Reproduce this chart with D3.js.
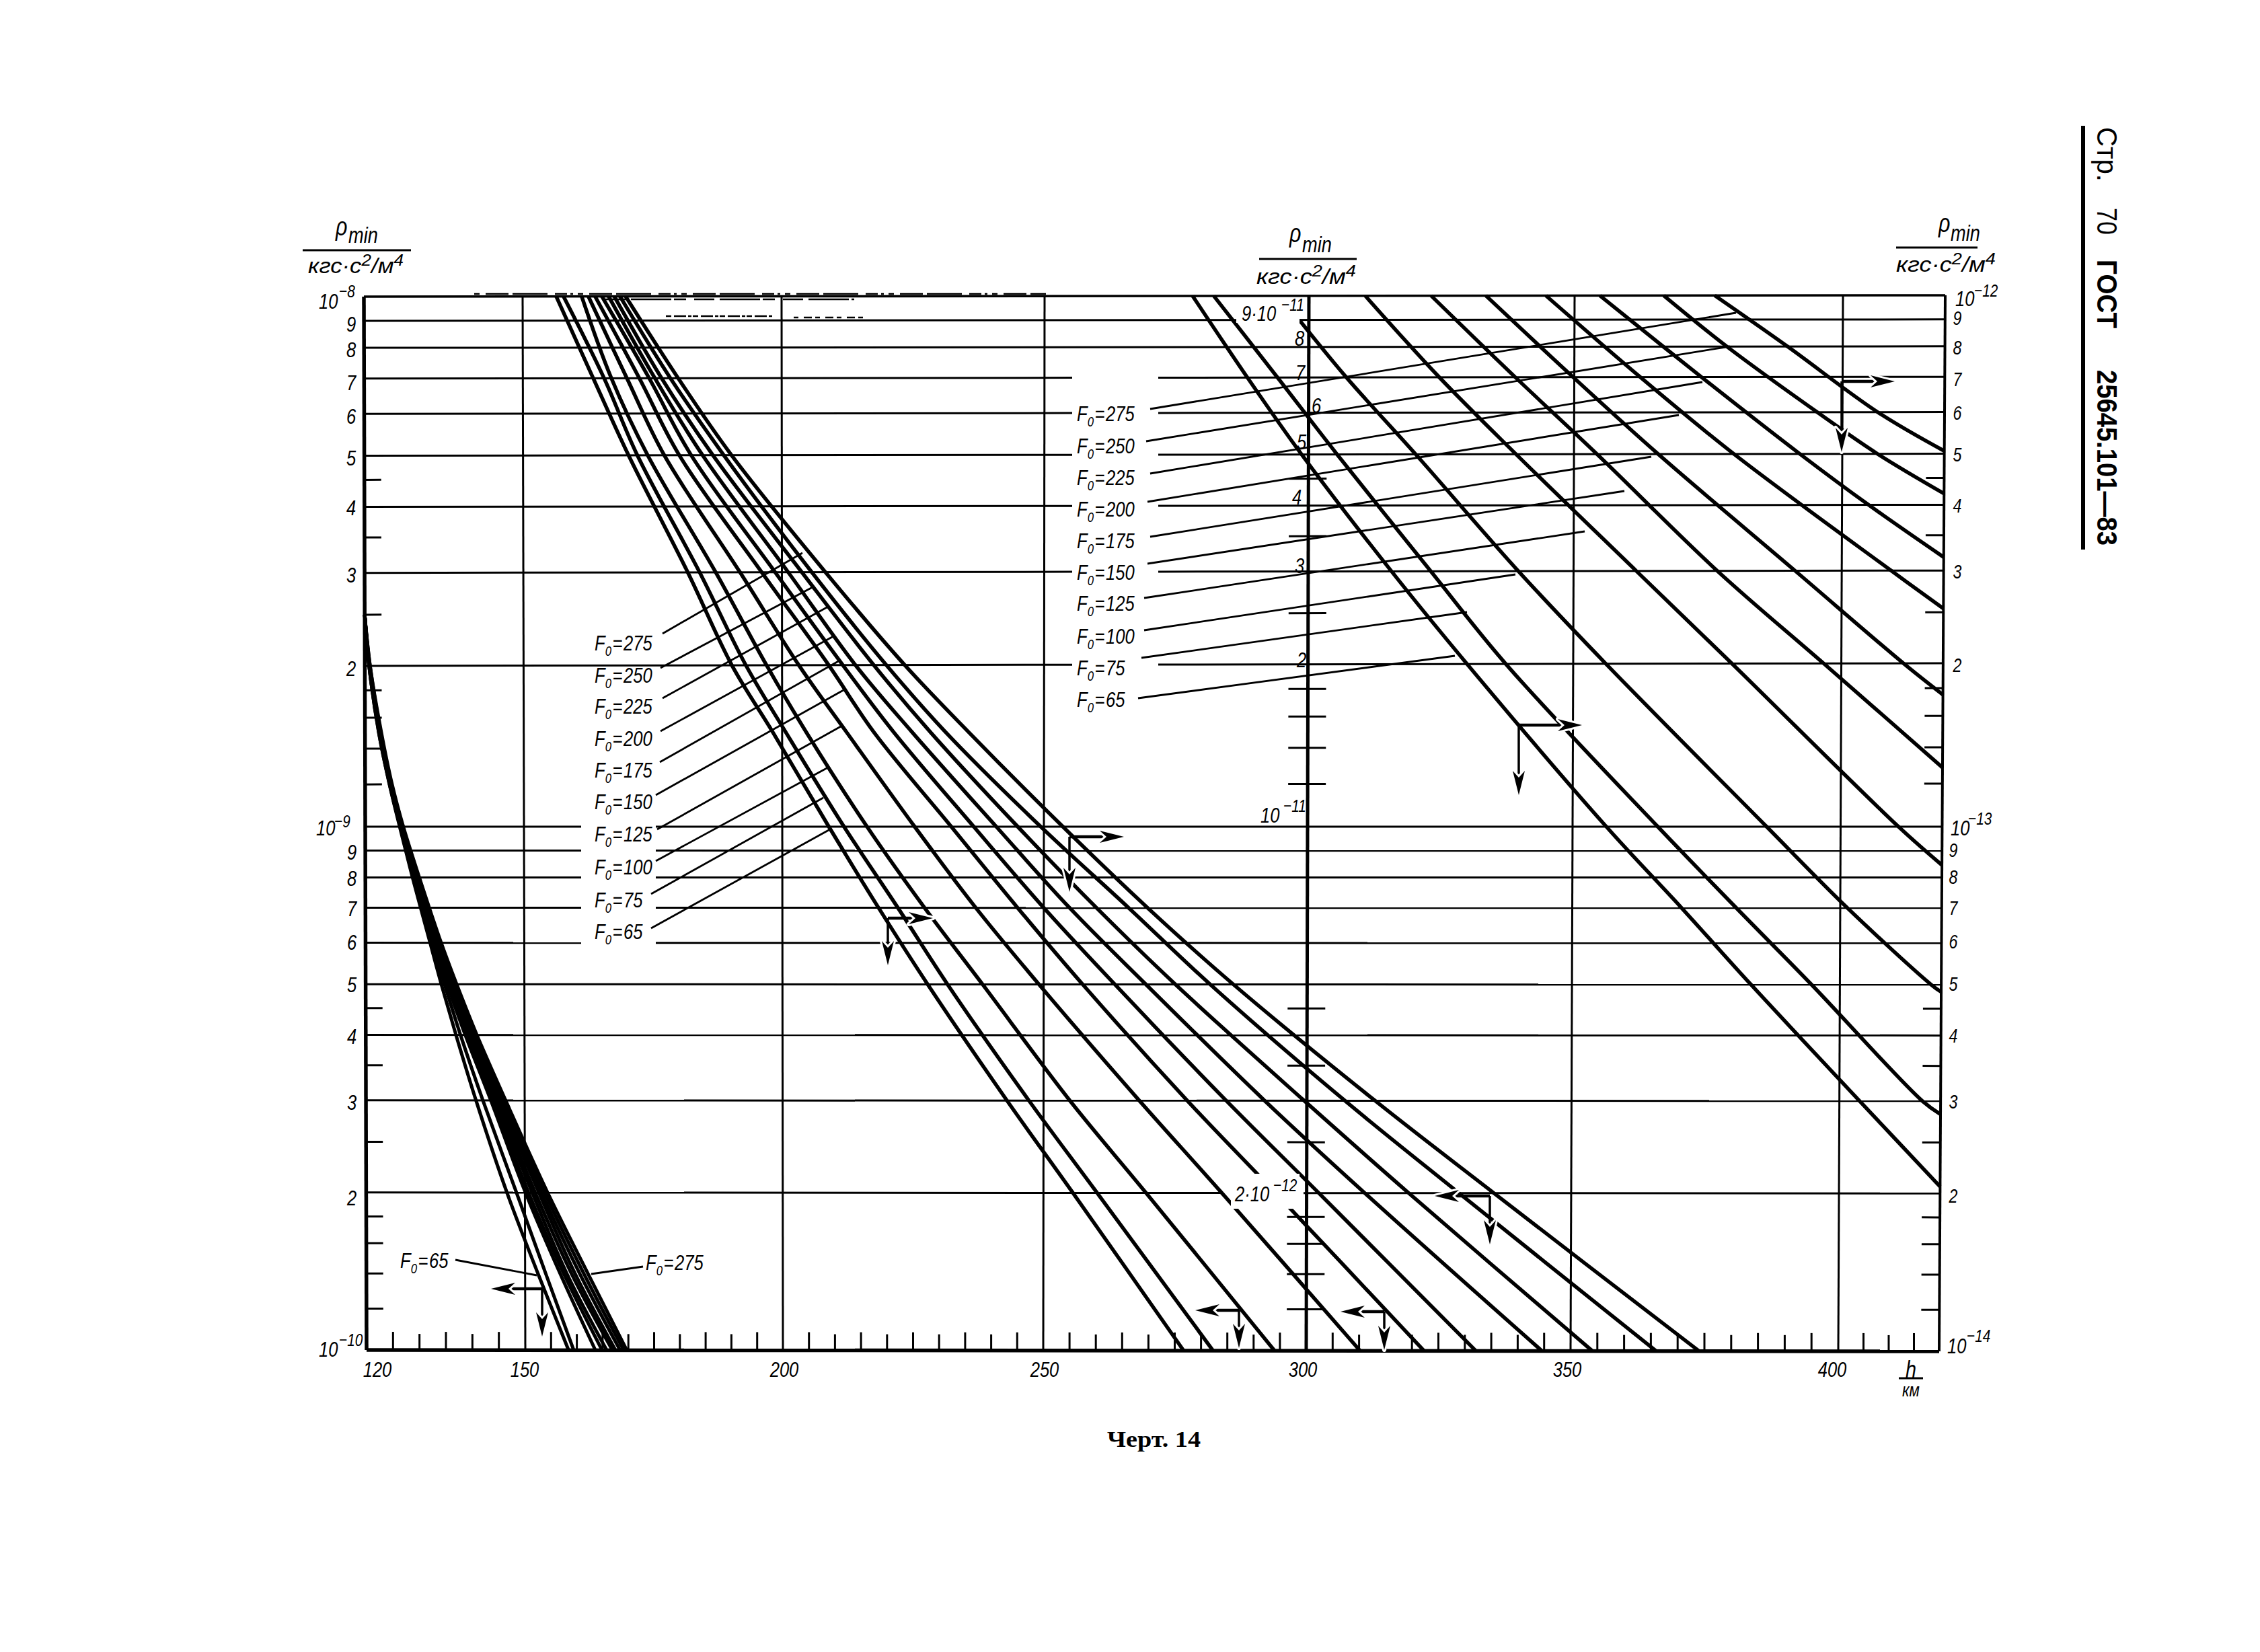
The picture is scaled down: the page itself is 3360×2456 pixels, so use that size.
<!DOCTYPE html>
<html><head><meta charset="utf-8">
<style>
html,body{margin:0;padding:0;background:#fff}
svg{display:block}
text{font-family:"Liberation Sans",Arimo,sans-serif;fill:#000}
.it{font-style:italic}
</style>
<script src="https://cdn.jsdelivr.net/npm/d3@7/dist/d3.min.js"></script>
</head><body><svg id="c" width="3360" height="2456"></svg>
<script>
// ---------- DATA ----------
const fluxLabels = [65,75,100,125,150,175,200,225,250,275];
const hTicks = [120,150,200,250,300,350,400,420];
const hTickLabels = [120,150,200,250,300,350,400];

// Low range (left axis, kgf s2/m4): altitude per F0 at each density level
const rhoLow = [2.5e-9,2e-9,1.5e-9,1.2e-9,1e-9,8e-10,6e-10,5e-10,4e-10,3e-10,2e-10,1.4e-10,1e-10];
const hLow = [
 [120,120.8,122.6,124.6,126.5,128.9,132.2,134.3,137.05,140.8,146.6,152.5,158.4],
 [120,120.8,122.6,124.6,126.6,129,132.5,134.9,137.9,142.1,148.4,154,159.4],
 [120,120.8,122.7,124.7,126.7,129.2,132.9,135.4,138.8,143.6,150.1,156.8,163.6],
 [120,120.9,122.7,124.7,126.8,129.3,133,135.6,139.2,144,150.7,157.5,164.9],
 [120,120.9,122.8,124.8,126.85,129.4,133.2,135.9,139.5,144.4,151.4,158.1,165.8],
 [120,120.9,122.8,124.8,126.9,129.5,133.4,136.1,139.8,144.9,152,159,166.9],
 [120,120.9,122.9,124.9,127,129.7,133.6,136.4,140.1,145.3,152.7,159.7,167.5],
 [120,120.9,122.9,124.9,127.05,129.8,133.8,136.6,140.5,145.7,153.2,160.6,168.4],
 [120,121,123,125,127.1,130,134,136.9,140.8,146,153.8,161.4,169.1],
 [120,121,123.1,125.1,127.2,130.2,134.3,137.2,141,146.4,154.4,162.2,169.7]
];

// Middle range (middle axis): one row per density level, one column per F0
const rhoMid = [1e-10,7e-11,5e-11,3e-11,2e-11,1.5e-11,1e-11,7e-12,5e-12,3e-12,2e-12,1e-12];
const hMidByLevel = [
 [156.5,157.9,161.4,162.7,164.0,165.3,166.6,167.7,168.8,169.9],
 [163.6,165.7,167.1,170.1,172.5,174.4,175.5,176.8,178.5,180],
 [170.4,172.1,174.1,177.3,180.2,182.5,184.7,186.7,188.8,190.3],
 [181.8,184.1,187.2,191.9,196.1,198.7,201.2,203.8,205.7,208.3],
 [190.3,193,197,203.2,208.9,211.6,214,217.5,219.9,223.4],
 [198.2,200.7,204.6,212.3,217.5,221.3,224.8,228.3,231.2,235.6],
 [208.9,211.8,216.2,225.3,232.3,236.6,240.9,245,249.4,253.6],
 [218.4,222.1,227.2,237,245,250,254.9,260,266.1,269.7],
 [227.8,231.6,238.3,249.1,257.4,263.5,269.4,275,281.6,286],
 [243,247.2,255,268.2,277.3,284.7,292,299.5,307.2,312.9],
 [255.6,260.2,269.5,283.9,294.1,302.3,311,319.3,328.8,335.4],
 [276.7,282.3,294,310.2,322.3,332.1,344.6,354.1,366,374]
];

// High range (right axis): altitude per F0 at each density level; null = not read / off the chart
const rhoHigh = [1e-12,9e-13,8e-13,7e-13,6e-13,5e-13,4e-13,3e-13,2e-13,1e-13,7e-14,5e-14,3e-14];
const hHigh = [
 [278,null,null,288.4,null,298.7,null,315.7,330,356.3,370.4,383.4,404],
 [282,null,null,294.1,null,305.4,null,323.1,337.3,365.9,380.6,394.7,416.4],
 [null,298.2,null,307.1,null,320.2,null,339.6,356.1,386.2,401.4,418,null],
 [310.6,null,null,324.6,null,339.1,null,361.7,379.6,411.4,null,null,null],
 [323,null,null,338.9,null,354.3,null,376.8,396.7,null,null,null,null],
 [333.3,null,null,349.8,null,365.7,null,391.3,412.2,null,null,null,null],
 [344.6,null,null,362.3,null,379.8,null,409.7,null,null,null,null,null],
 [354.7,null,null,373.7,null,392.1,405.2,null,null,null,null,null,null],
 [366.6,null,378.4,null,395.3,406.9,null,null,null,null,null,null,null],
 [376.1,null,389.7,null,406.9,null,null,null,null,null,null,null,null]
];
const hRightEdge = 420;
const rhoAtRightEdge = [2.06e-14,2.83e-14,4.84e-14,8.45e-14,1.285e-13,1.75e-13,2.54e-13,3.18e-13,4.2e-13,5.06e-13];

const majorMantissas = [9,8,7,6,5,4,3,2];
const minorMantissas = [4.5,3.5,2.5,1.8,1.6,1.4,1.2];
const decadeExponents = [-9,-10];

// ---------- SCALES (the sheet is slightly warped, so top/bottom and left/right differ) ----------
const xTop = d3.scaleLinear().domain(hTicks).range([541,777,1162,1553,1946,2341,2740,2892]);
const xBot = d3.scaleLinear().domain(hTicks).range([545,781,1164,1551,1942,2335,2733,2883]);
const yL = d3.scaleLog().domain([1e-10,1e-9,2e-9,1e-8]).range([2007,1229,990,441]);
const yR = d3.scaleLog().domain([1e-10,1e-9,2e-9,1e-8]).range([2009,1229,986,439]);
const LOW=1, MID=100, HIGH=10000;
const tOf = y => (y-441)/1566;
const yAt = (v,px) => { const f=(px-541)/2345; return yL(v)*(1-f)+yR(v)*f; };
const xAt = (h,y) => { const t=tOf(y); return xTop(h)*(1-t)+xBot(h)*t; };
function project(h,v){ // v: value normalised to the left axis
  let y=yL(v);
  const x=xAt(h,y);
  y=yAt(v,x);
  return [xAt(h,y),y];
}
const svg = d3.select('#c');
const segLine = d3.line();
const curveLine = d3.line().curve(d3.curveCatmullRom.alpha(0.5));

// ---------- GRID ----------
const g = svg.append('g').attr('stroke','#000').attr('fill','none');
const leftEdge = y=>xAt(120,y), rightEdge = y=>xAt(420,y);
function hLine(v,gaps,w){
  let y0=yL(v), a=leftEdge(y0), b=rightEdge(y0);
  const stops=[a,...gaps.flat(),b];
  for(let i=0;i<stops.length;i+=2){
    g.append('path').attr('stroke-width',w)
     .attr('d',segLine([[stops[i],yAt(v,stops[i])],[stops[i+1],yAt(v,stops[i+1])]]));
  }
}
const gapLabels=[[864,975]], gapRight=[[1594,1722]], gap212=[[1815,1938]];
hLine(1e-8,[],3.5);
majorMantissas.forEach(m=>{
  const isRight = m<=7;
  hLine(m*1e-9,isRight?gapRight:[],3);
});
hLine(1e-9,gapLabels,3);
majorMantissas.forEach(m=>{
  let gaps=[];
  if(m>=6) gaps=gapLabels;
  if(m===2) gaps=gap212;
  hLine(m*1e-10,gaps,3);
});
hTickLabels.slice(1).forEach(h=>{
  const w = h===300?5:3;
  g.append('path').attr('stroke-width',w).attr('d',segLine([project(h,1e-8),project(h,1e-10)]));
});
g.append('path').attr('stroke-width',5.5).attr('d',segLine([project(120,1e-8),project(120,1e-10)]));
g.append('path').attr('stroke-width',4).attr('d',segLine([project(420,1e-8),project(420,1e-10)]));
g.append('path').attr('stroke-width',5.5).attr('d',segLine([project(120,1e-10),project(420,1e-10)]));
decadeExponents.forEach(e=>minorMantissas.forEach(m=>{
  const v=m*Math.pow(10,e);
  const yy=yL(v);
  g.append('path').attr('stroke-width',3).attr('d',segLine([[xAt(120,yy),yAt(v,xAt(120,yy))],[xAt(120,yy)+25,yAt(v,xAt(120,yy)+25)]]));
  g.append('path').attr('stroke-width',3).attr('d',segLine([[xAt(420,yy)-27,yAt(v,xAt(420,yy)-27)],[xAt(420,yy),yAt(v,xAt(420,yy))]]));
  g.append('path').attr('stroke-width',3).attr('d',segLine([[xAt(300,yy)-29,yAt(v,xAt(300,yy)-29)],[xAt(300,yy)+27,yAt(v,xAt(300,yy)+27)]]));
}));
d3.range(125,420,5).filter(h=>h%50!==0).forEach(h=>{
  const [x,y]=project(h,1e-10);
  g.append('path').attr('stroke-width',3).attr('d',segLine([[x,y],[x,y-(h%10===5?27:24)]]));
});

// scan debris along the top edge
[[705,1555,437,'8 9 34 6 52 11 18 5 4 7'],[900,1270,445,'30 8 60 4 18 12'],[990,1150,470,'8 4 18 3 5 2'],[1180,1285,472,'7 8 12 5']].forEach(d=>{
  g.append('path').attr('stroke-width',2.5).attr('stroke-dasharray',d[3]).attr('d',segLine([[d[0],d[2]],[d[1],d[2]]]));
});

// ---------- CURVES ----------
const c = svg.append('g').attr('stroke','#000').attr('fill','none').attr('stroke-width',5.5);
fluxLabels.forEach((f,i)=>{
  c.append('path').attr('stroke-width',5).attr('d',curveLine(rhoLow.map((r,k)=>project(hLow[i][k],r*LOW))));
  c.append('path').attr('d',curveLine(rhoMid.map((r,k)=>project(hMidByLevel[k][i],r*MID))));
  const pts = rhoHigh.map((r,k)=>hHigh[i][k]==null?null:project(hHigh[i][k],r*HIGH)).filter(Boolean);
  pts.push(project(hRightEdge,rhoAtRightEdge[i]*HIGH));
  c.append('path').attr('d',curveLine(pts));
});

// ---------- ANNOTATION LAYOUT (page pixels) ----------
const leaderW=2.8, narrow=0.8;
const ann = svg.append('g');
function leader(p,q){ann.append('path').attr('fill','none').attr('stroke','#000').attr('stroke-width',leaderW).attr('d',segLine([p,q]));}
function narrowText(x,baseline,size,anchor){
  return ann.append('text').attr('class','it').attr('transform',`translate(${x},${baseline}) scale(${narrow},1)`).attr('font-size',size).attr('text-anchor',anchor||'start');
}
function label(x,cy,txt,size,opts){
  opts=opts||{};
  return narrowText(x,cy+size*0.36,size,opts.anchor).text(txt);
}
function f0Label(x,cy,v){
  const t=narrowText(x,cy+11,32);
  t.append('tspan').text('F');
  t.append('tspan').attr('font-size',21).attr('dy',8).text('0');
  t.append('tspan').attr('dy',-8).attr('dx',2).text('=');
  t.append('tspan').attr('dx',2).text(v);
  return t;
}
const leftRows=[[956,985,942,1193,822],[1004,982,993,1208,873],[1050,985,1038,1231,902],[1098,982,1087,1239,946],[1145,981,1133,1250,981],[1192,975,1182,1254,1026],[1240,977,1233,1250,1080],[1289,975,1280,1231,1141],[1338,968,1329,1224,1186],[1385,968,1380,1234,1233]];
const rightRows=[[615,1710,608,2581,465],[663,1704,656,2572,515],[710,1710,704,2531,568],[757,1706,746,2496,617],[804,1710,798,2455,679],[851,1706,838,2415,730],[897,1701,889,2356,790],[946,1701,937,2253,854],[993,1697,978,2181,910],[1040,1692,1038,2163,975]];
const leftOrder=[...fluxLabels].reverse();
leftRows.forEach((r,i)=>{leader([r[1],r[2]],[r[3],r[4]]);f0Label(884,r[0],leftOrder[i]);});
rightRows.forEach((r,i)=>{leader([r[1],r[2]],[r[3],r[4]]);f0Label(1601,r[0],leftOrder[i]);});
leader([677,1873],[798,1896]);
f0Label(595,1874,65);
leader([956,1883],[879,1894]);
f0Label(960,1877,275);

// arrows: corner, then tips
function head(tip,dx,dy){
  const L=36,W=9,N=26,px=-dy,py=dx;
  const d=[[tip[0]-dx*L+px*W,tip[1]-dy*L+py*W],tip,[tip[0]-dx*L-px*W,tip[1]-dy*L-py*W],[tip[0]-dx*N,tip[1]-dy*N]];
  ann.append('path').attr('fill','#000').attr('stroke','#fff').attr('stroke-width',6).attr('paint-order','stroke').attr('stroke-linejoin','round').attr('d',segLine(d)+'Z');
}
function arrow(corner,hx,vy){
  const s=Math.sign(hx-corner[0]);
  ann.append('path').attr('stroke','#000').attr('stroke-width',4.5).attr('d',segLine([corner,[hx-s*20,corner[1]]]));
  ann.append('path').attr('stroke','#000').attr('stroke-width',3.5).attr('d',segLine([corner,[corner[0],vy-20]]));
  head([hx,corner[1]],s,0);
  head([corner[0],vy],0,1);
}
arrow([806,1916],730,1987);
arrow([1320,1365],1387,1435);
arrow([1590,1244],1671,1326);
arrow([2258,1078],2352,1182);
arrow([2738,567],2817,672);
arrow([2215,1778],2133,1850);
arrow([2058,1950],1993,2007);
arrow([1842,1948],1777,2004);

// tick labels: left
const leftUpperY=[481,519,568,618,680,754,854,993];
const leftLowerY=[1266,1305,1350,1400,1463,1540,1638,1780];
majorMantissas.forEach((m,i)=>{label(522,leftUpperY[i],m,32,{anchor:'middle'});label(523,leftLowerY[i],m,32,{anchor:'middle'});});
function pow(x1,cy1,base,x2,cy2,sup){
  label(x1,cy1,base,32);
  label(x2,cy2,sup,26);
}
pow(474,447,'10',504,433,'−8');
pow(470,1230,'10',497,1221,'−9');
pow(474,2005,'10',504,1992,'−10');
// right
const rightUpperY=[471,515,562,612,674,750,848,987];
const rightLowerY=[1264,1304,1350,1400,1463,1540,1638,1778];
majorMantissas.forEach((m,i)=>{label(2910,rightUpperY[i]+2,m,29,{anchor:'middle'});label(2904,rightLowerY[i],m,29,{anchor:'middle'});});
pow(2907,443,'10',2935,432,'−12');
pow(2900,1230,'10',2926,1217,'−13');
pow(2895,2000,'10',2924,1986,'−14');
// middle
[[8,1932,502],[7,1933,553],[6,1957,602],[5,1935,656],[4,1928,738],[3,1932,840],[2,1935,980]].forEach(d=>label(d[1],d[2],d[0],32,{anchor:'middle'}));
ann.append('rect').attr('x',1838).attr('y',446).attr('width',94).attr('height',34).attr('fill','#fff');
pow(1846,465,'9·10',1905,453,'−11');
pow(1874,1211,'10',1908,1198,'−11');
ann.append('rect').attr('x',1830).attr('y',1745).attr('width',102).attr('height',52).attr('fill','#fff');
pow(1836,1774,'2·10',1893,1762,'−12');
// x ticks
[[120,561],[150,780],[200,1166],[250,1553],[300,1937],[350,2330],[400,2724]].forEach(d=>label(d[1],2035,d[0],32,{anchor:'middle'}));

// axis titles
function frac(xr,yr,xm,ym,barA,barB,yb,xd,yd,wd){
  narrowText(xr,yr+10,38).text('ρ');
  narrowText(xm,ym+9,34).text('min');
  ann.append('path').attr('stroke','#000').attr('stroke-width',2.8).attr('d',segLine([[barA,yb],[barB,yb]]));
  const d=ann.append('text').attr('class','it').attr('x',xd).attr('y',yd+11).attr('font-size',32).attr('textLength',wd).attr('lengthAdjust','spacingAndGlyphs');
  d.append('tspan').text('кгс·с');
  d.append('tspan').attr('font-size',24).attr('dy',-11).text('2');
  d.append('tspan').attr('dy',11).text('/м');
  d.append('tspan').attr('font-size',24).attr('dy',-11).text('4');
}
frac(499,340,518,352,450,611,372,458,395,142);
frac(1917,350,1936,366,1872,2017,385,1868,411,148);
frac(2882,335,2900,349,2819,2940,368,2819,393,148);
label(2841,2035,'h',36,{anchor:'middle'});
ann.append('path').attr('stroke','#000').attr('stroke-width',2.8).attr('d',segLine([[2823,2049],[2859,2049]]));
label(2841,2066,'км',28,{anchor:'middle'});

// caption and page header
ann.append('text').attr('x',1646).attr('y',2151).attr('font-size',34).attr('font-weight','bold')
  .attr('style','font-family:"Liberation Serif",serif').attr('textLength',139).attr('lengthAdjust','spacingAndGlyphs').text('Черт. 14');
function head90(y0,len,txt,weight){
  ann.append('text').attr('transform',`translate(3118,${y0}) rotate(90)`).attr('font-size',42)
    .attr('font-weight',weight).attr('textLength',len).attr('lengthAdjust','spacingAndGlyphs').text(txt);
}
head90(189,81,'Стр.','normal');
head90(309,40,'70','normal');
head90(386,102,'ГОСТ','bold');
head90(550,261,'25645.101—83','bold');
ann.append('path').attr('stroke','#000').attr('stroke-width',6).attr('d',segLine([[3097,187],[3097,817]]));
</script></body></html>
